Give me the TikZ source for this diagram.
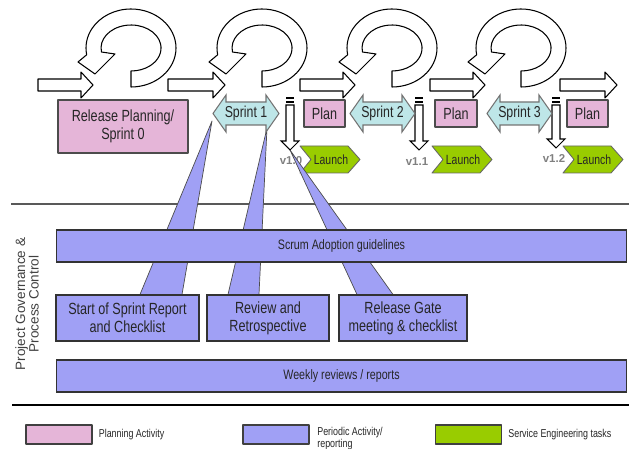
\documentclass[tikz,border=0pt]{standalone}
\usepackage{fontspec}
\setmainfont{Liberation Sans}[FakeStretch=0.78]
\newfontfamily\plainsans{Liberation Sans}
\usepackage{tikz}
\usetikzlibrary{positioning,calc}

\definecolor{planpink}{RGB}{229,181,216}
\definecolor{periodic}{RGB}{160,160,245}
\definecolor{servgreen}{RGB}{153,204,0}
\definecolor{sprintcyan}{RGB}{190,230,232}

\pgfdeclarelayer{front}
\pgfsetlayers{main,front}

\tikzset{
  blockarrow/.style={draw=black, fill=white, line width=0.6pt},
  planbox/.style={draw=black!70, fill=planpink, line width=0.6pt, inner sep=0pt,
                  align=center, text=black!85, font=\fontsize{9.2}{10.2}\selectfont},
  periodbox/.style={draw=black!80, fill=periodic, line width=0.6pt, inner sep=0pt,
                    align=center, text=black!85, font=\fontsize{9.2}{10.2}\selectfont},
  bandbox/.style={periodbox, font=\fontsize{7.8}{9}\selectfont},
  pointer/.style={draw=black!70, fill=periodic, line width=0.4pt},
  sprintarrow/.style={draw=black!55, fill=sprintcyan, line width=0.6pt},
  sprintlabel/.style={inner sep=0pt, text=black!85, font=\fontsize{9}{10}\selectfont},
  launchshape/.style={draw=black!60, fill=servgreen, line width=0.5pt},
  launchlabel/.style={inner sep=0pt, text=black!85, font=\fontsize{7.6}{9}\selectfont},
  vlabel/.style={inner sep=0pt, text=black!50, font=\plainsans\bfseries\fontsize{6.5}{8}\selectfont},
  legendbox/.style={draw=black!75, line width=0.6pt, minimum width=1.32cm,
                    minimum height=0.38cm, inner sep=0pt},
  legendtext/.style={inner sep=0pt, anchor=west, text=black!85, font=\fontsize{6.5}{8}\selectfont},
}

\begin{document}
\begin{tikzpicture}[x=0.02cm, y=-0.02cm, line join=round]
  \useasboundingbox (0,0) rectangle (629,449);

  % separators
  \draw[black!65, line width=0.6pt] (11,204) -- (629,204);
  \draw[black, line width=1.1pt] (12,405) -- (629,405);

  % flow arrows between the cycles
  \foreach \xa/\xb in {38/93, 168/225, 300/355, 430/485, 560/617}
    \draw[blockarrow] (\xa,79) -- (\xb-12,79) -- (\xb-12,72) -- (\xb,85)
      -- (\xb-12,98) -- (\xb-12,91) -- (\xa,91) -- cycle;

  % iteration loops
  \foreach \cx in {131,262,392,521}
    \draw[blockarrow] (\cx,71) -- (\cx,87)
      arc[start angle=90, end angle=-190, x radius=45, y radius=39]
      -- (\cx-53,62) -- (\cx-36,74) -- (\cx-16,54) -- (\cx-29.5,52)
      arc[start angle=-190, end angle=90, x radius=30, y radius=23] -- cycle;

  % planning
  \node[planbox, minimum width=2.6cm, minimum height=1.06cm] (rp0) at (123,126.5) {Release Planning/\\Sprint 0};
  \node[planbox, minimum width=0.82cm, minimum height=0.54cm] (plan1) at (324.5,113.5) {Plan};
  \node[planbox, minimum width=0.84cm, minimum height=0.54cm] (plan2) at (456,113.5) {Plan};
  \node[planbox, minimum width=0.82cm, minimum height=0.54cm] (plan3) at (587.5,113.5) {Plan};

  % launches
  \foreach \n/\xa in {1/300, 2/432, 3/563} {
    \draw[launchshape] (\xa,146) -- (\xa+48,146) -- (\xa+60,159.5) -- (\xa+48,173)
      -- (\xa,173) -- (\xa+11,159.5) -- cycle;
    \node[launchlabel] (launch\n) at (\xa+31,160) {Launch};
  }
  \node[vlabel] (v10) at (291,161) {v1.0};
  \node[vlabel] (v11) at (417,162) {v1.1};
  \node[vlabel] (v12) at (554,159) {v1.2};

  \begin{pgfonlayer}{front}
    % releases
    \foreach \n/\xc/\yt in {1/290/150, 2/419/150, 3/556/148} {
      \fill[black] (\xc-4,97) rectangle (\xc+4,99.2);
      \fill[black] (\xc-4,100.8) rectangle (\xc+4,103);
      \draw[blockarrow] (\xc-4,105) -- (\xc+4,105) -- (\xc+4,\yt-9) -- (\xc+9,\yt-9)
        -- (\xc,\yt) -- (\xc-9,\yt-9) -- (\xc-4,\yt-9) -- cycle;
      \coordinate (drop\n) at (\xc,\yt);
    }
    % sprints
    \foreach \n/\xa/\xb in {1/213/279, 2/350/415, 3/487/552} {
      \draw[sprintarrow] (\xa,113.5) -- (\xa+13,95) -- (\xa+13,102) -- (\xb-13,102)
        -- (\xb-13,95) -- (\xb,113.5) -- (\xb-13,132) -- (\xb-13,125)
        -- (\xa+13,125) -- (\xa+13,132) -- cycle;
      \node[sprintlabel] (sp\n) at ({(\xa+\xb)/2},113.5) {Sprint \n};
    }
    % governance
    \node[bandbox, minimum width=11.42cm, minimum height=0.64cm] (scrum) at (341.5,246) {Scrum Adoption guidelines};
    \node[periodbox, minimum width=2.86cm, minimum height=0.92cm] (start) at (127.5,318) {Start of Sprint Report\\and Checklist};
    \node[periodbox, minimum width=2.44cm, minimum height=0.92cm] (review) at (268,318) {Review and\\Retrospective};
    \node[periodbox, minimum width=2.56cm, minimum height=0.92cm] (gate) at (403,318) {Release Gate\\meeting \& checklist};
    \node[bandbox, minimum width=11.42cm, minimum height=0.64cm] (weekly) at (341.5,376) {Weekly reviews / reports};
  \end{pgfonlayer}

  % pointers
  \draw[pointer] ($(start.north)+(12.5,0)$) -- ($(sp1)+(-34,7.5)$) -- ($(start.north)+(54.5,0)$) -- cycle;
  \draw[pointer] ($(review.north)+(-40,0)$) -- ($(sp1)+(21,14.5)$) -- ($(review.north)+(-9,0)$) -- cycle;
  \draw[pointer] ($(gate.north)+(-46,0)$) -- (drop1) -- ($(gate.north)+(-10,0)$) -- cycle;

  \node[rotate=90, align=center, text=black!75, font=\plainsans\fontsize{7.7}{7.6}\selectfont]
    (govern) at (27,304) {Project Governance \&\\Process Control};

  % legend
  \node[legendbox, fill=planpink] (lgplan) at (59,434.5) {};
  \node[legendtext, right=0.12cm of lgplan] (lgplantxt) {Planning Activity};
  \node[legendbox, fill=periodic] (lgper) at (276,434.5) {};
  \node[legendtext, anchor=north west, align=left, font=\fontsize{6.5}{6.8}\selectfont] (lgpertxt) at (317,426.5) {Periodic Activity/\\reporting};
  \node[legendbox, fill=servgreen] (lgserv) at (468.5,434.5) {};
  \node[legendtext, right=0.12cm of lgserv] (lgservtxt) {Service Engineering tasks};
\end{tikzpicture}
\end{document}
